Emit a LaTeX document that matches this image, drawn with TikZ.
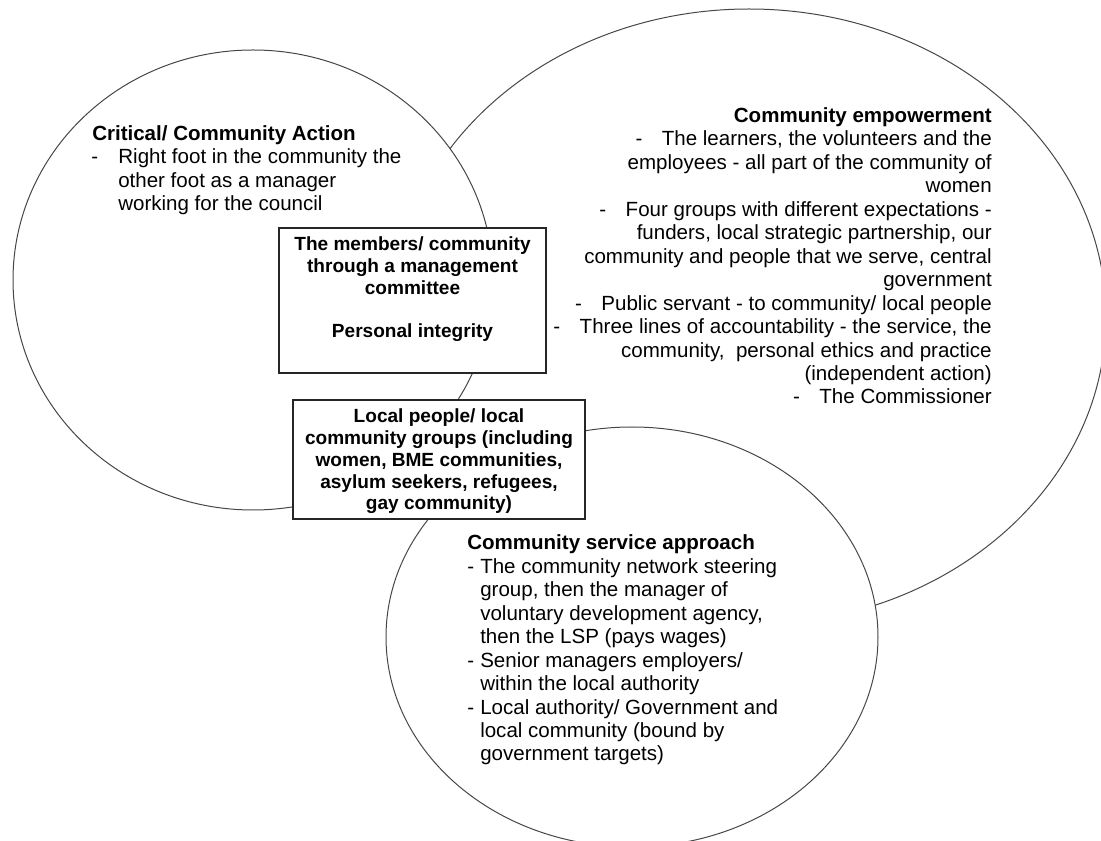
\documentclass[tikz,border=0pt]{standalone}
\usepackage{fontspec}
\setmainfont{Liberation Sans}
\usetikzlibrary{shapes.geometric}
\begin{document}
\begin{tikzpicture}[x=0.75pt,y=-0.75pt,
  oval/.style={draw=black!72, line width=0.75pt, fill=white, ellipse, inner sep=0pt, outer sep=0pt},
  boxst/.style={draw=black!85, line width=0.9pt, fill=white, rectangle, inner sep=0pt, outer sep=0pt},
  body/.style={font=\fontsize{15.4}{17.6}\selectfont, inner sep=0pt, align=left},
  boxtext/.style={font=\bfseries\fontsize{14.3}{16.4}\selectfont, inner sep=0pt, align=center}]
\useasboundingbox (0,0) rectangle (1101,841);
\clip (0,0) rectangle (1101,841);
\fill[white] (0,0) rectangle (1101,841);
% ovals
\node[oval, minimum width=535.5pt, minimum height=462pt] (empower) at (749,317) {};
\node[oval, minimum width=360pt, minimum height=345pt] (critical) at (253,280) {};
\node[oval, minimum width=369pt, minimum height=315pt] (service) at (632,637) {};
% boxes
\node[boxst, minimum width=200.25pt, minimum height=108.75pt, anchor=north west] (members) at (279,228) {};
\node[boxst, minimum width=219pt, minimum height=89.25pt, anchor=north west] (local) at (293,400) {};
% box texts (anchored at the baseline of their last line)
\node[boxtext, anchor=base] (memberst) at (412.5,338) {The members/ community\\through a management\\committee\\[16.4pt]Personal integrity};
\node[boxtext, anchor=base] (localt) at (439,510) {Local people/ local\\community groups (including\\women, BME communities,\\asylum seekers, refugees,\\gay community)};
% left text
\node[body, anchor=base west] (leftt) at (91,210.5) {\hspace*{0.75pt}\textbf{Critical/ Community Action}\\-\hspace{15.2pt}Right foot in the community the\\\hspace*{20.25pt}other foot as a manager\\\hspace*{20.25pt}working for the council};
% right text
\node[body, align=right, anchor=base east] (rightt) at (992,404) {\textbf{Community empowerment}\\-\hspace{14.6pt}The learners, the volunteers and the\\employees - all part of the community of\\women\\-\hspace{14.6pt}Four groups with different expectations -\\funders, local strategic partnership, our\\community and people that we serve, central\\government\\-\hspace{14.6pt}Public servant - to community/ local people\\-\hspace{14.6pt}Three lines of accountability - the service, the\\community,\ \ personal ethics and practice\\(independent action)\\-\hspace{14.6pt}The Commissioner};
% bottom text
\node[body, anchor=base west] (bottomt) at (467,761) {\textbf{Community service approach}\\-\hspace{4.65pt}The community network steering\\\hspace*{9.75pt}group, then the manager of\\\hspace*{9.75pt}voluntary development agency,\\\hspace*{9.75pt}then the LSP (pays wages)\\-\hspace{4.65pt}Senior managers employers/\\\hspace*{9.75pt}within the local authority\\-\hspace{4.65pt}Local authority/ Government and\\\hspace*{9.75pt}local community (bound by\\\hspace*{9.75pt}government targets)};
\end{tikzpicture}
\end{document}
